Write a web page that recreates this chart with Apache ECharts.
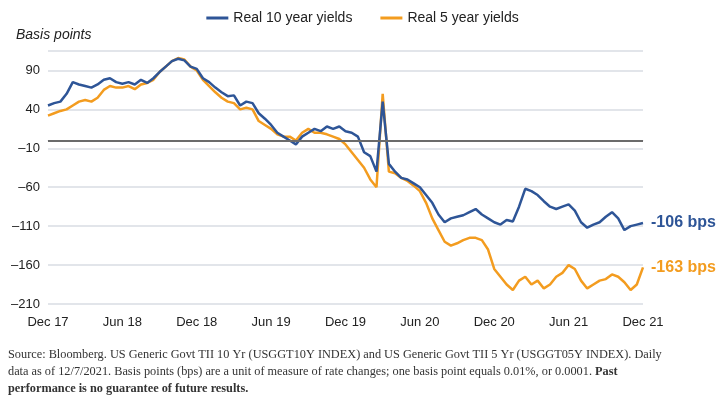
<!DOCTYPE html>
<html><head><meta charset="utf-8">
<script src="https://cdn.jsdelivr.net/npm/echarts@6/dist/echarts.min.js"></script>
<style>body{margin:0}#box{width:725px;height:411px}</style>
</head><body><div id="box"></div>
<script>
const chartDom = document.getElementById('box');
const myChart = echarts.init(chartDom);

// half-monthly points, Dec 2017 .. Dec 2021
const months = ['Jan','Feb','Mar','Apr','May','Jun','Jul','Aug','Sep','Oct','Nov','Dec'];
const dates = [];
for (let i = 0; i < 97; i++) {
    const m = (11 + Math.floor(i / 2)) % 12;
    const y = 17 + Math.floor((11 + Math.floor(i / 2)) / 12);
    dates.push(months[m] + " '" + y + (i % 2 ? ' b' : ''));
}
const real10 = [45,48, 50,60, 75,72, 70,68, 72,78, 80,75, 73,75, 72,78, 74,80, 88,95, 102,105, 103,95,
    92,80, 75,68, 62,57, 58,45, 50,48, 35,28, 20,10, 5,0, -5,5, 10,15, 12,18, 15,18,
    12,10, 5,-15, -20,-40, 50,-30, -40,-48, -50,-55, -60,-70, -80,-95, -105,-100, -98,-96, -92,-88, -95,-100,
    -105,-108, -102,-104, -85,-62, -65,-70, -78,-85, -88,-85, -82,-90, -105,-112, -108,-105, -98,-92, -100,-115, -110,-108,
    -106];
const real5 = [32,35, 38,40, 45,50, 52,50, 55,65, 70,68, 68,70, 66,72, 74,78, 88,95, 102,106, 104,95,
    90,78, 70,62, 55,50, 48,40, 42,40, 25,20, 15,8, 5,5, 0,10, 15,10, 10,8, 5,2,
    -5,-15, -25,-35, -50,-60, 60,-40, -42,-48, -52,-58, -65,-80, -100,-115, -130,-135, -132,-128, -125,-125, -128,-140,
    -165,-175, -185,-192, -180,-175, -185,-180, -190,-185, -175,-170, -160,-165, -180,-190, -185,-180, -178,-172, -175,-182, -192,-185,
    -163];

const option = {
    animation: false,
    legend: {
        top: 6, left: 'center',
        itemWidth: 22, itemHeight: 3, itemGap: 28,
        icon: 'rect',
        textStyle: { fontFamily: 'Liberation Sans Narrow, Arial', fontSize: 14, color: '#222' },
        data: ['Real 10 year yields', 'Real 5 year yields']
    },
    grid: { left: 48, right: 82, top: 51, bottom: 107 },
    xAxis: {
        type: 'category', data: dates, boundaryGap: false,
        axisLine: { lineStyle: { color: '#d9dde3' } },
        axisTick: { show: false },
        axisLabel: {
            interval: 11, color: '#222', fontSize: 13, margin: 12,
            fontFamily: 'Liberation Sans Narrow, Arial',
            formatter: v => v.replace(' b', '').replace("'", '')
        }
    },
    yAxis: {
        type: 'value', min: -210, max: 115, interval: 50,
        axisLine: { show: false }, axisTick: { show: false },
        axisLabel: { showMaxLabel: false, color: '#222', fontSize: 13, fontFamily: 'Liberation Sans Narrow, Arial', formatter: v => String(v).replace('-', '–') },
        splitLine: { lineStyle: { color: '#d9dde3', width: 1.5 } }
    },
    graphic: [
        { type: 'text', left: 16, top: 28, style: { text: 'Basis points', font: 'italic 14px Liberation Sans Narrow, Arial', fill: '#222' } },
        { type: 'text', left: 8, top: 346, style: {
            lineHeight: 17,
            text: 'Source: Bloomberg. US Generic Govt TII 10 Yr (USGGT10Y INDEX) and US Generic Govt TII 5 Yr (USGGT05Y INDEX). Daily\ndata as of 12/7/2021. Basis points (bps) are a unit of measure of rate changes; one basis point equals 0.01%, or 0.0001. {b|Past}\n{b|performance is no guarantee of future results.}',
            fontFamily: 'Liberation Serif', fontSize: 12.3, fill: '#333',
            rich: { b: { fontWeight: 'bold', fontFamily: 'Liberation Serif', fontSize: 12.3, fill: '#333' } }
        } }
    ],
    series: [
        {
            name: 'Real 10 year yields', type: 'line', data: real10, showSymbol: false,
            color: '#2e5597', lineStyle: { width: 2.5 }, z: 3,
            endLabel: { show: true, formatter: '-106 bps', color: '#2e5597', fontSize: 16, fontWeight: 'bold', fontFamily: 'Liberation Sans Narrow, Arial' },
            markLine: {
                silent: true, symbol: 'none', label: { show: false },
                lineStyle: { color: '#6b6b6b', width: 2, type: 'solid' },
                data: [{ yAxis: 0 }]
            }
        },
        {
            name: 'Real 5 year yields', type: 'line', data: real5, showSymbol: false,
            color: '#f39c1f', lineStyle: { width: 2.5 }, z: 2,
            endLabel: { show: true, formatter: '-163 bps', color: '#f39c1f', fontSize: 16, fontWeight: 'bold', fontFamily: 'Liberation Sans Narrow, Arial' }
        }
    ]
};

myChart.setOption(option);
</script>
</body></html>
